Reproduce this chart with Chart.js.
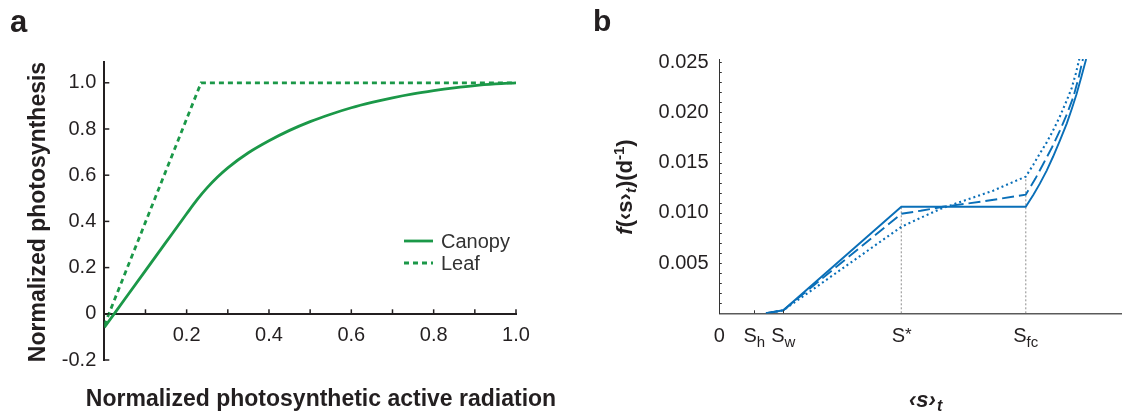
<!DOCTYPE html>
<html>
<head>
<meta charset="utf-8">
<script src="https://cdn.jsdelivr.net/npm/chart.js@4.4.1/dist/chart.umd.min.js"></script>
<style>
html, body { margin: 0; padding: 0; background: #fff; }
#wrap { position: relative; width: 1122px; height: 412px; overflow: hidden; }
canvas { position: absolute; top: 0; }
#chartA { left: 0; }
#chartB { left: 561px; }
</style>
</head>
<body>
<div id="wrap">
  <canvas id="chartA" width="561" height="412"></canvas>
  <canvas id="chartB" width="561" height="412"></canvas>
</div>
<script>
// ---- panel a data ----
const canopyX = [0, 0.05, 0.10, 0.15, 0.20, 0.225, 0.25, 0.275, 0.30, 0.35, 0.40, 0.45, 0.50, 0.55, 0.60, 0.65, 0.70, 0.75, 0.80, 0.85, 0.90, 0.95, 1.00];
const canopyY = [-0.059, 0.064, 0.187, 0.31, 0.433, 0.493, 0.546, 0.592, 0.632, 0.697, 0.749, 0.794, 0.832, 0.864, 0.892, 0.915, 0.935, 0.952, 0.966, 0.978, 0.988, 0.995, 1.0];
const leafX = [0, 0.235, 1.0];
const leafY = [-0.05, 1.0, 1.0];
const xTicksA = [0.1, 0.2, 0.3, 0.4, 0.5, 0.6, 0.7, 0.8, 0.9, 1.0];
const xLabelsA = ['', '0.2', '', '0.4', '', '0.6', '', '0.8', '', '1.0'];
const yTicksA = [-0.2, 0, 0.2, 0.4, 0.6, 0.8, 1.0];
const yLabelsA = ['-0.2', '0', '0.2', '0.4', '0.6', '0.8', '1.0'];

// ---- panel b data ----
const sTicks = [0, 0.087, 0.159, 0.452, 0.761];
const sLabels = [['0', ''], ['S', 'h'], ['S', 'w'], ['S', '*'], ['S', 'fc']];
const solidX = [0.116, 0.159, 0.452, 0.761, 0.78, 0.796, 0.813, 0.829, 0.846, 0.863, 0.875, 0.887, 0.899, 0.911];
const solidY = [0, 0.0003, 0.0106, 0.0106, 0.0118, 0.0129, 0.0142, 0.0156, 0.0172, 0.0189, 0.0203, 0.0218, 0.0235, 0.0253];
const dashX = [0.116, 0.159, 0.452, 0.50, 0.555, 0.65, 0.761, 0.785, 0.805, 0.826, 0.846, 0.863, 0.879, 0.892, 0.903];
const dashY = [0, 0.0003, 0.0099, 0.0102, 0.0106, 0.0111, 0.0118, 0.0134, 0.0149, 0.0165, 0.0182, 0.0198, 0.0215, 0.0234, 0.0253];
const dotX = [0.116, 0.159, 0.452, 0.50, 0.55, 0.60, 0.68, 0.761, 0.78, 0.796, 0.813, 0.829, 0.846, 0.863, 0.875, 0.885, 0.894];
const dotY = [0, 0.0003, 0.0086, 0.0095, 0.0104, 0.0111, 0.0122, 0.0136, 0.0148, 0.0159, 0.0170, 0.0182, 0.0196, 0.0212, 0.0224, 0.0238, 0.0253];
const guideX = [0.452, 0.761];
const guideTop = [0.0106, 0.0136];
const yTicksB = [0.005, 0.010, 0.015, 0.020, 0.025];
const yLabelsB = ['0.005', '0.010', '0.015', '0.020', '0.025'];

const FONT = '"Liberation Sans", Arial, sans-serif';
const dark = '#231f20';
const green = '#1b9848';
const blue = '#0a6fb8';
const offB = 561; // left edge of panel b canvas on the page

const pts = (xs, ys) => xs.map((x, i) => ({ x: x, y: ys[i] }));

const line = (ctx, x1, y1, x2, y2) => {
  ctx.beginPath();
  ctx.moveTo(x1, y1);
  ctx.lineTo(x2, y2);
  ctx.stroke();
};

// inward ticks, legend and titles for panel a
const decorA = {
  id: 'decorA',
  afterDraw(chart) {
    const { ctx, chartArea, scales: { x, y } } = chart;
    const y0 = y.getPixelForValue(0);
    ctx.save();
    ctx.strokeStyle = dark;
    ctx.lineWidth = 1.5;
    xTicksA.forEach(v => {
      const px = x.getPixelForValue(v);
      line(ctx, px, y0, px, y0 - 4.5);
    });
    yTicksA.forEach(v => {
      const py = y.getPixelForValue(v);
      line(ctx, chartArea.left, py, chartArea.left + 5, py);
    });

    // legend
    const rows = [241, 263];
    chart.data.datasets.forEach((ds, i) => {
      ctx.strokeStyle = ds.borderColor;
      ctx.lineWidth = ds.borderWidth;
      ctx.setLineDash(ds.borderDash || []);
      line(ctx, 404, rows[i], 433, rows[i]);
      ctx.setLineDash([]);
      ctx.fillStyle = '#333';
      ctx.font = '20px ' + FONT;
      ctx.textAlign = 'left';
      ctx.textBaseline = 'middle';
      ctx.fillText(ds.label, 441, rows[i] + 1);
    });

    ctx.fillStyle = dark;
    ctx.font = 'bold 23px ' + FONT;
    ctx.textAlign = 'center';
    ctx.textBaseline = 'alphabetic';
    ctx.fillText('Normalized photosynthetic active radiation', 321, 406);

    ctx.save();
    ctx.translate(45, 212);
    ctx.rotate(-Math.PI / 2);
    ctx.fillText('Normalized photosynthesis', 0, 0);
    ctx.restore();

    ctx.font = 'bold 31px ' + FONT;
    ctx.textAlign = 'left';
    ctx.fillText('a', 10, 32);
    ctx.restore();
  }
};

new Chart(document.getElementById('chartA'), {
  type: 'line',
  data: {
    datasets: [
      { label: 'Canopy', data: pts(canopyX, canopyY), borderColor: green, borderWidth: 2.8, pointRadius: 0, cubicInterpolationMode: 'monotone' },
      { label: 'Leaf', data: pts(leafX, leafY), borderColor: green, borderWidth: 2.8, borderDash: [5, 4], pointRadius: 0, tension: 0 }
    ]
  },
  options: {
    responsive: false,
    animation: false,
    events: [],
    layout: { padding: { left: 0, top: 62, right: 45, bottom: 52 } },
    plugins: { legend: { display: false }, tooltip: { enabled: false } },
    scales: {
      x: {
        type: 'linear', min: 0, max: 1, position: { y: 0 },
        afterBuildTicks: s => { s.ticks = xTicksA.map(v => ({ value: v })); },
        ticks: { callback: (v, i) => xLabelsA[i], autoSkip: false, maxRotation: 0, padding: 10, color: dark, font: { family: FONT, size: 20 } },
        grid: { display: false, drawTicks: false },
        border: { color: dark, width: 2 }
      },
      y: {
        type: 'linear', min: -0.2, max: 1.09,
        afterBuildTicks: s => { s.ticks = yTicksA.map(v => ({ value: v })); },
        afterFit: s => { s.width = 104.3; },
        ticks: { callback: (v, i) => yLabelsA[i], padding: 8, color: dark, font: { family: FONT, size: 20 } },
        grid: { display: false, drawTicks: false },
        border: { color: dark, width: 2 }
      }
    }
  },
  plugins: [decorA]
});

// ticks, subscripted labels and titles for panel b
const decorB = {
  id: 'decorB',
  afterDraw(chart) {
    const { ctx, chartArea, scales: { x, y } } = chart;
    ctx.save();
    ctx.strokeStyle = '#333';
    ctx.lineWidth = 1;
    for (let k = 1; k <= 25; k++) {
      const py = Math.round(y.getPixelForValue(k / 1000)) + 0.5;
      line(ctx, chartArea.left, py, chartArea.left + 2.5, py);
    }
    [sTicks[1], sTicks[2]].forEach(v => {
      const px = Math.round(x.getPixelForValue(v)) + 0.5;
      line(ctx, px, chartArea.bottom, px, chartArea.bottom - 3);
    });

    // x tick labels with subscripts
    ctx.fillStyle = dark;
    ctx.textBaseline = 'alphabetic';
    ctx.textAlign = 'left';
    sTicks.forEach((v, i) => {
      const main = sLabels[i][0], sub = sLabels[i][1];
      ctx.font = '20px ' + FONT;
      const w1 = ctx.measureText(main).width;
      ctx.font = '15px ' + FONT;
      const w2 = sub ? ctx.measureText(sub).width : 0;
      const left = x.getPixelForValue(v) - (w1 + w2) / 2;
      ctx.font = '20px ' + FONT;
      ctx.fillText(main, left, 342);
      if (sub) {
        ctx.font = (sub === '*' ? '17px ' : '15px ') + FONT;
        ctx.fillText(sub, left + w1, sub === '*' ? 340 : 347);
      }
    });

    // y title f(<s>t)(d-1)
    const parts = [
      { t: 'f', f: 'italic bold 22px ', dy: 0 },
      { t: '(\u2039s\u203a', f: 'bold 22px ', dy: 0 },
      { t: 't', f: 'italic bold 15px ', dy: 4 },
      { t: ')(d', f: 'bold 22px ', dy: 0 },
      { t: '-1', f: 'bold 15px ', dy: -8 },
      { t: ')', f: 'bold 22px ', dy: 0 }
    ];
    let total = 0;
    parts.forEach(p => { ctx.font = p.f + FONT; p.w = ctx.measureText(p.t).width; total += p.w; });
    ctx.save();
    ctx.translate(632 - offB, 187);
    ctx.rotate(-Math.PI / 2);
    let cx = -total / 2;
    parts.forEach(p => {
      ctx.font = p.f + FONT;
      ctx.fillText(p.t, cx, p.dy);
      cx += p.w;
    });
    ctx.restore();

    // x title <s>t
    ctx.font = 'italic bold 22px ' + FONT;
    const wa = ctx.measureText('\u2039s\u203a').width;
    ctx.fillText('\u2039s\u203a', 909 - offB, 407);
    ctx.font = 'italic bold 16px ' + FONT;
    ctx.fillText('t', 909 - offB + wa + 1, 411);

    ctx.font = 'bold 30px ' + FONT;
    ctx.fillText('b', 593 - offB, 31);
    ctx.restore();
  }
};

new Chart(document.getElementById('chartB'), {
  type: 'line',
  data: {
    datasets: [
      { data: pts(solidX, solidY), borderColor: blue, borderWidth: 1.9, pointRadius: 0, tension: 0 },
      { data: pts(dashX, dashY), borderColor: blue, borderWidth: 1.9, borderDash: [12, 5], pointRadius: 0, tension: 0 },
      { data: pts(dotX, dotY), borderColor: blue, borderWidth: 2.1, borderDash: [2, 3], pointRadius: 0, tension: 0 },
      { data: [{ x: guideX[0], y: 0 }, { x: guideX[0], y: guideTop[0] }], borderColor: '#a0a0a0', borderWidth: 1.2, borderDash: [2, 2], pointRadius: 0 },
      { data: [{ x: guideX[1], y: 0 }, { x: guideX[1], y: guideTop[1] }], borderColor: '#a0a0a0', borderWidth: 1.2, borderDash: [2, 2], pointRadius: 0 }
    ]
  },
  options: {
    responsive: false,
    animation: false,
    events: [],
    layout: { padding: { left: 0, top: 59, right: 0, bottom: 98.7 } },
    plugins: { legend: { display: false }, tooltip: { enabled: false } },
    scales: {
      x: {
        type: 'linear', min: 0, max: 1, position: { y: 0 },
        ticks: { display: false },
        grid: { display: false, drawTicks: false },
        border: { color: '#5a5a5a', width: 1.5 }
      },
      y: {
        type: 'linear', min: 0, max: 0.0253,
        afterBuildTicks: s => { s.ticks = yTicksB.map(v => ({ value: v })); },
        afterFit: s => { s.width = 158.3; },
        ticks: { callback: (v, i) => yLabelsB[i], padding: 10.7, color: dark, font: { family: FONT, size: 20 } },
        grid: { display: false, drawTicks: false },
        border: { color: '#333', width: 1 }
      }
    }
  },
  plugins: [decorB]
});
</script>
</body>
</html>
